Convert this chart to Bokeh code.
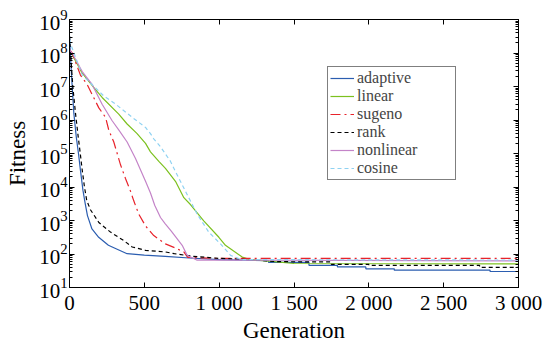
from bokeh.plotting import figure
from bokeh.models import (Range1d, FixedTicker, LinearAxis, LogAxis, Legend, LegendItem,
                          CustomJSTickFormatter)
from bokeh.embed import file_html
from bokeh.resources import INLINE

# ---- data ----
gen_adaptive = [0, 8, 18, 29, 45, 60, 73, 90, 105, 120, 150, 195, 260, 300, 385, 500, 640, 800,
                1000, 1330, 1330, 1600, 1600, 1790, 1790, 1980, 1980, 2170, 2170, 2810, 2810, 3000]
fit_adaptive = [3.2e8, 6.3e7, 1.0e7, 1.6e6, 3.2e5, 1.0e5, 3.2e4, 7.9e3, 3.2e3, 1.4e3, 560, 316,
                182, 151, 102, 93, 85, 76, 68, 63, 56, 56, 46, 46, 41, 41, 36, 36, 33, 33, 30, 30]

gen_linear = [0, 18, 85, 174, 218, 329, 385, 450, 508, 541, 597, 641, 708, 764, 808, 897, 998,
              1042, 1154, 1200, 1350, 1500, 3000]
fit_linear = [1.0e8, 8.9e7, 2.5e7, 8.1e6, 4.7e6, 1.5e6, 7.6e5, 4.0e5, 2.0e5, 1.12e5, 5.8e4,
              3.6e4, 1.48e4, 4.8e3, 3.0e3, 980, 316, 182, 81, 69, 60, 52, 51]

gen_sugeno = [0, 18, 73, 118, 151, 196, 241, 263, 296, 341, 374, 408, 430, 463, 508, 563, 641,
              708, 764, 790, 1000, 3000]
fit_sugeno = [1.26e8, 1.0e8, 2.2e7, 1.15e7, 5.8e6, 2.3e6, 1.2e6, 4.9e5, 2.2e5, 4.6e4, 1.8e4,
              7.4e3, 3.8e3, 1.55e3, 690, 355, 200, 151, 115, 79, 74, 74]

gen_rank = [0, 10, 22, 40, 58, 72, 85, 100, 115, 140, 196, 274, 363, 419, 508, 641, 700, 827,
            1000, 1200, 1400, 1750, 1750, 2000, 2000, 2740, 2740, 3000]
fit_rank = [3.2e8, 6.3e7, 1.0e7, 1.6e6, 3.2e5, 1.0e5, 3.2e4, 1.0e4, 4.0e3, 2.1e3, 870, 450, 250,
            162, 129, 115, 102, 85, 74, 68, 59, 58, 49, 49, 46, 46, 40, 40]

gen_nonlinear = [0, 18, 85, 151, 218, 285, 330, 385, 441, 508, 541, 570, 608, 640, 680, 753,
                 786, 850, 3000]
fit_nonlinear = [1.26e8, 9.8e7, 2.8e7, 1.15e7, 2.95e6, 9.5e5, 5.0e5, 2.2e5, 7.1e4, 1.48e4,
                 6.6e3, 2.8e3, 1.23e3, 794, 479, 182, 91, 66, 62]

gen_cosine = [0, 18, 85, 174, 229, 307, 419, 508, 541, 563, 608, 675, 708, 764, 853, 931, 1009,
              1076, 1150, 3000]
fit_cosine = [2.5e8, 1.38e8, 2.2e7, 9.1e6, 5.2e6, 3.0e6, 1.2e6, 6.0e5, 3.9e5, 2.75e5, 1.58e5,
              5.8e4, 2.9e4, 9.3e3, 1.55e3, 447, 200, 91, 68, 66]

x_ticks = [0, 500, 1000, 1500, 2000, 2500, 3000]
x_tick_labels = ["0", "500", "1 000", "1 500", "2 000", "2 500", "3 000"]
y_ticks = [1e1, 1e2, 1e3, 1e4, 1e5, 1e6, 1e7, 1e8, 1e9]
y_minor_ticks = [m * 10.0 ** k for k in range(1, 9) for m in range(2, 10)]

FONT = "Liberation Serif"

p = figure(width=548, height=345, y_axis_type="log", output_backend="svg",
           toolbar_location=None, x_range=Range1d(0, 3000), y_range=Range1d(1e1, 1e9),
           min_border_left=69, min_border_right=30, min_border_top=19, min_border_bottom=54)
p.xgrid.visible = False
p.ygrid.visible = False
p.outline_line_color = "black"
p.outline_line_width = 1
p.background_fill_color = "white"
p.border_fill_color = "white"

xt = FixedTicker(ticks=x_ticks)
yt = FixedTicker(ticks=y_ticks, minor_ticks=y_minor_ticks)

def style(ax):
    ax.axis_line_color = "black"
    ax.major_tick_in = 5
    ax.major_tick_out = 0
    ax.minor_tick_in = 3
    ax.minor_tick_out = 0
    ax.major_tick_line_color = "black"
    ax.minor_tick_line_color = "black"
    ax.major_label_text_font = FONT
    ax.major_label_text_font_size = "21px"
    ax.major_label_text_color = "black"
    ax.axis_label_text_font = FONT
    ax.axis_label_text_font_size = "23px"
    ax.axis_label_text_font_style = "normal"
    ax.axis_label_text_color = "black"

xa = p.xaxis[0]
xa.ticker = xt
xa.major_label_overrides = dict(zip(x_ticks, x_tick_labels))
xa.axis_label = "Generation"
style(xa)
xa.major_label_standoff = 3
xa.axis_label_standoff = 0

ya = p.yaxis[0]
ya.ticker = yt
ya.axis_label = "Fitness"
style(ya)
ya.major_label_standoff = 2
ya.axis_label_standoff = 6

top = LinearAxis(ticker=xt, formatter=CustomJSTickFormatter(code="return ''"))
style(top)
top.major_label_text_font_size = "1px"
top.major_label_standoff = 0
p.add_layout(top, "above")
right = LogAxis(ticker=yt, formatter=CustomJSTickFormatter(code="return ''"))
style(right)
right.major_label_text_font_size = "1px"
right.major_label_standoff = 0
p.add_layout(right, "right")

lw = 1.2
r1 = p.line(gen_adaptive, fit_adaptive, line_color="#2b5db0", line_width=lw)
r2 = p.line(gen_linear, fit_linear, line_color="#7cc11f", line_width=lw)
r3 = p.line(gen_sugeno, fit_sugeno, line_color="#e8232b", line_width=lw, line_dash="10 4 2 4")
r4 = p.line(gen_rank, fit_rank, line_color="black", line_width=lw, line_dash="4 3")
r5 = p.line(gen_nonlinear, fit_nonlinear, line_color="#c484c8", line_width=lw)
r6 = p.line(gen_cosine, fit_cosine, line_color="#8fd2f2", line_width=lw, line_dash="4 3")

legend = Legend(items=[
    LegendItem(label="adaptive", renderers=[r1]),
    LegendItem(label="linear", renderers=[r2]),
    LegendItem(label="sugeno", renderers=[r3]),
    LegendItem(label="rank", renderers=[r4]),
    LegendItem(label="nonlinear", renderers=[r5]),
    LegendItem(label="cosine", renderers=[r6]),
], location=(258, 107))
legend.label_text_font = FONT
legend.label_text_font_size = "16px"
legend.label_height = 16
legend.label_width = 96
legend.glyph_height = 16
legend.glyph_width = 24
legend.label_standoff = 3
legend.spacing = 0
legend.padding = 2
legend.margin = 0
legend.border_line_color = "black"
legend.border_line_width = 1
legend.background_fill_color = "white"
legend.background_fill_alpha = 1
p.add_layout(legend, "center")

open("out.html", "w").write(file_html(p, INLINE))
